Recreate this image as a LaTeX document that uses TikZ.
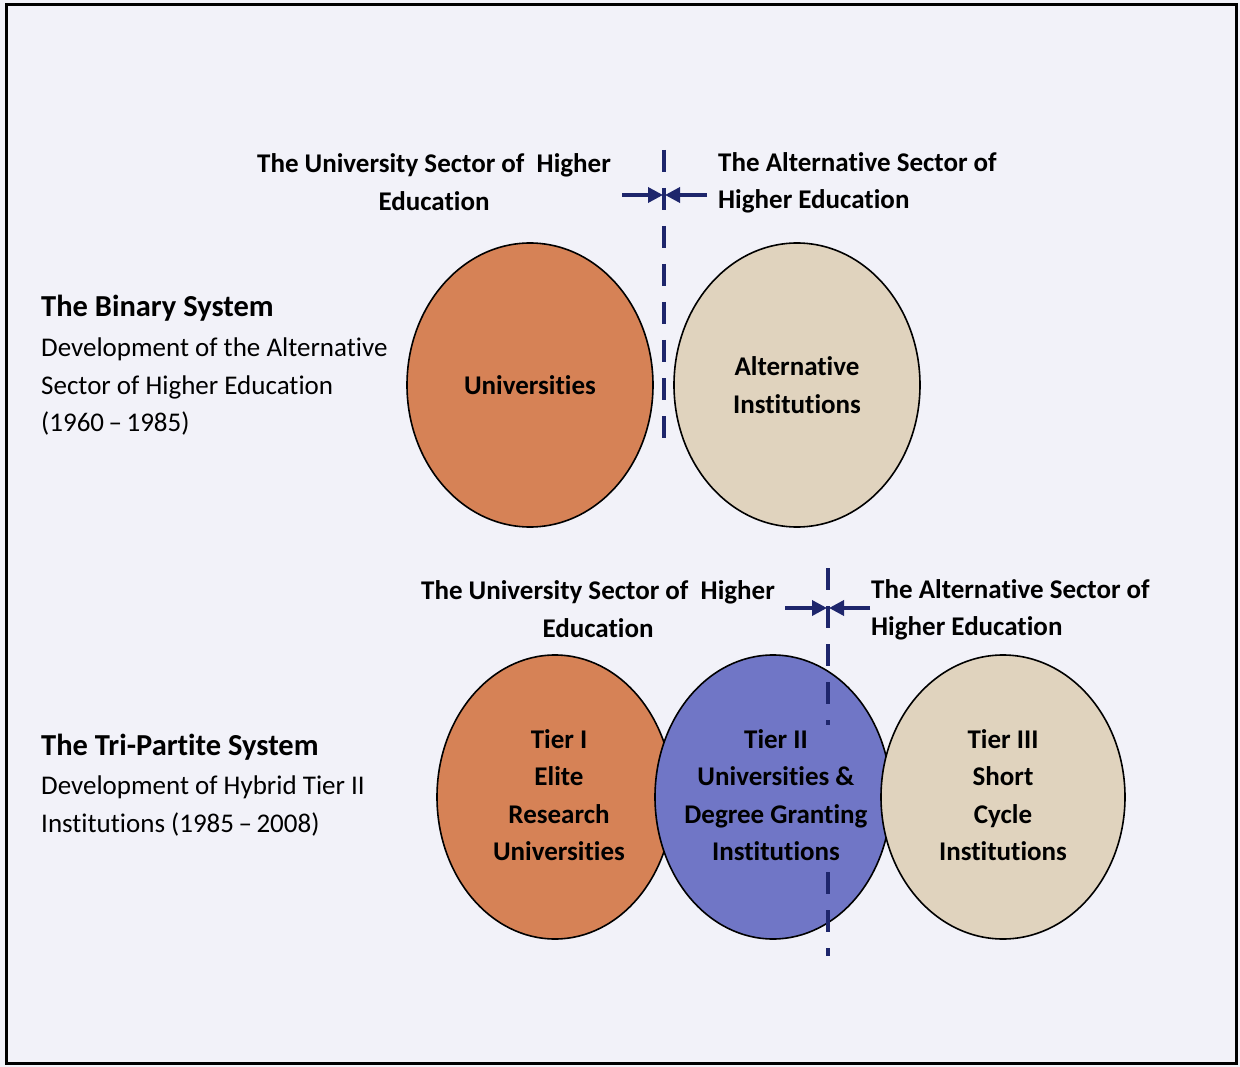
\documentclass[tikz,border=0pt]{standalone}
\usepackage{fontspec}
\setmainfont[Ligatures={NoCommon,NoContextual,NoRare},Contextuals=NoAlternate]{Carlito}
\usetikzlibrary{arrows.meta,shapes.geometric}
\definecolor{bg}{RGB}{242,242,249}
\definecolor{navy}{RGB}{30,38,108}
\definecolor{uorange}{RGB}{214,130,86}
\definecolor{beige}{RGB}{224,211,190}
\definecolor{tblue}{RGB}{112,118,198}
\newcommand{\zk}{\kern0pt }
\begin{document}
\begin{tikzpicture}[x=1pt,y=-1pt,
  oval/.style={ellipse, draw=black, line width=1.6pt, inner sep=0pt},
  bigoval/.style={oval, minimum width=246pt, minimum height=284pt},
  triov/.style={oval, minimum width=236pt, minimum height=284pt},
  lbl/.style={align=center, font=\fontsize{27}{37.5}\selectfont\bfseries, inner sep=1pt},
  hdr/.style={font=\fontsize{27}{37.5}\selectfont\bfseries, inner sep=0pt},
  title/.style={anchor=west, font=\fontsize{30.5}{37.5}\selectfont\bfseries, inner sep=0pt},
  desc/.style={anchor=north west, align=left, font=\fontsize{27}{37.5}\selectfont, inner sep=0pt},
  divider/.style={draw=navy, line width=4pt, dash pattern=on 22pt off 16pt},
  squeeze/.style={draw=navy, line width=3.5pt, -{Triangle[length=15pt,width=15pt]}}
]
\useasboundingbox (0,0) rectangle (1240,1067);
\fill[bg] (0,0) rectangle (1240,1067);
\draw[line width=3pt] (6,5) rectangle (1236,1063);

% ---------- Binary system ----------
\node[title] (bt) at (41,308) {The Binary System};
\node[desc] (bd) at (41,338) {Development of the Alternat\zk ive\\Sector of Higher Educat\zk ion\\(1960\,--\,1985)};

\node[hdr, align=center] (uh1) at (434,182) {The University Sector of\ \ Higher\\Educat\zk ion};
\node[hdr, align=left, anchor=west] (ah1) at (718,183) {The Alternat\zk ive Sector of\\Higher Educat\zk ion};

\coordinate (d1a) at (664,150);
\coordinate (d1b) at (664,446);
\draw[divider] (d1a) -- (d1b);
\coordinate (m1) at (664,195);
\coordinate (l1) at (622,195);
\coordinate (r1) at (707,195);
\draw[squeeze] (l1) -- ([xshift=-1pt]m1);
\draw[squeeze] (r1) -- ([xshift=1pt]m1);

\node[bigoval, fill=uorange] (uni) at (530,385) {};
\node[lbl] (unitxt) at (uni.center) {Universities};
\node[bigoval, fill=beige] (alt) at (797,385) {};
\node[lbl] (alttxt) at (alt.center) {Alternat\zk ive\\Inst\zk itut\zk ions};

% ---------- Tri-partite system ----------
\node[title] (tt) at (41,747) {The Tri-Part\zk ite System};
\node[desc] (td) at (41,776) {Development of Hybrid Tier II\\Inst\zk itut\zk ions (1985\,--\,2008)};

\node[hdr, align=center] (uh2) at (598,609) {The University Sector of\ \ Higher\\Educat\zk ion};
\node[hdr, align=left, anchor=west] (ah2) at (871,610) {The Alternat\zk ive Sector of\\Higher Educat\zk ion};

\node[triov, fill=uorange] (t1) at (555,797) {};
\node[lbl] (t1txt) at ([xshift=4pt,yshift=2pt]t1.center) {Tier I\\Elite\\Research\\Universities};
\node[triov, fill=tblue] (t2) at (773,797) {};
\node[triov, fill=beige, minimum width=244pt] (t3) at (1003,797) {};
\node[lbl] (t3txt) at ([yshift=2pt]t3.center) {Tier III\\Short\\Cycle\\Inst\zk itut\zk ions};

\coordinate (d2a) at (828,568);
\coordinate (d2b) at (828,956);
\draw[divider] (d2a) -- (d2b);
\node[lbl, fill=tblue, inner ysep=4pt] (t2txt) at ([xshift=3pt,yshift=2pt]t2.center) {Tier II\\Universities \&\\Degree Grant\zk ing\\Inst\zk itut\zk ions};
\coordinate (m2) at (828,608);
\coordinate (l2) at (785,608);
\coordinate (r2) at (870,608);
\draw[squeeze] (l2) -- ([xshift=-1pt]m2);
\draw[squeeze] (r2) -- ([xshift=1pt]m2);
\end{tikzpicture}
\end{document}
